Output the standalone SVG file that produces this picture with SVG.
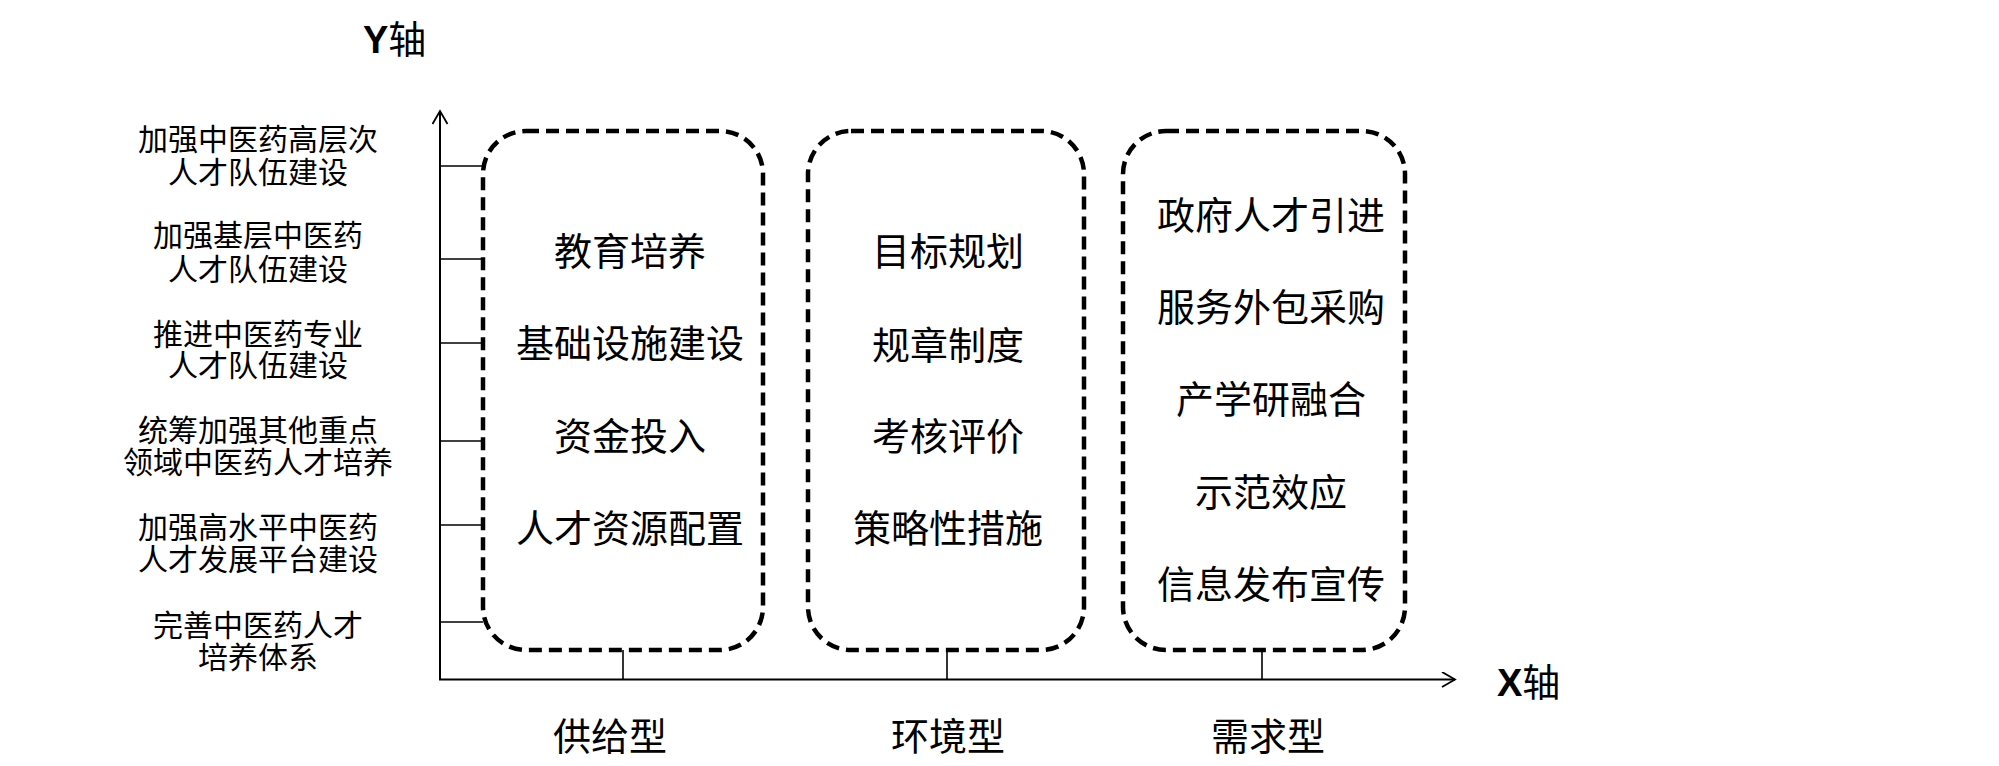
<svg xmlns="http://www.w3.org/2000/svg" width="1999" height="766" viewBox="0 0 1999 766">
<defs>
<style>
.t{font-family:"Noto Sans CJK SC","Liberation Serif",serif;fill:#000;text-anchor:middle;dominant-baseline:central}
.l{font-size:30px}
.b{font-size:38px}
.box{fill:none;stroke:#000;stroke-width:4.5;stroke-dasharray:13 7}
.ax{fill:none;stroke:#000;stroke-width:2}
.tk{fill:none;stroke:#000;stroke-width:1.6}
</style>
<marker id="arr" markerWidth="20" markerHeight="20" refX="14" refY="8" orient="auto" markerUnits="userSpaceOnUse">
<polyline points="1,0.5 14,8 1,15.5" fill="none" stroke="#000" stroke-width="1.8"/>
</marker>
</defs>
<rect width="1999" height="766" fill="#fff"/>
<g id="axes">
<line class="ax" x1="440" y1="680" x2="440" y2="111" marker-end="url(#arr)"/>
<line class="ax" x1="439" y1="679.5" x2="1455" y2="679.5" marker-end="url(#arr)"/>
<text x="363" y="53" font-size="38"><tspan font-family="Liberation Sans,Arial,sans-serif" font-weight="bold">Y</tspan><tspan font-family="Noto Sans CJK SC,sans-serif">轴</tspan></text>
<text x="1497" y="696" font-size="38"><tspan font-family="Liberation Sans,Arial,sans-serif" font-weight="bold">X</tspan><tspan font-family="Noto Sans CJK SC,sans-serif">轴</tspan></text>
</g>
<g id="connectors">
<line class="tk" x1="440" y1="166" x2="483" y2="166"/>
<line class="tk" x1="440" y1="259" x2="483" y2="259"/>
<line class="tk" x1="440" y1="343" x2="483" y2="343"/>
<line class="tk" x1="440" y1="441" x2="483" y2="441"/>
<line class="tk" x1="440" y1="525" x2="483" y2="525"/>
<line class="tk" x1="440" y1="622" x2="483" y2="622"/>
<line class="tk" x1="623" y1="650" x2="623" y2="679"/>
<line class="tk" x1="947" y1="650" x2="947" y2="679"/>
<line class="tk" x1="1262" y1="650" x2="1262" y2="679"/>
</g>
<g id="ylabels">
<text class="t l"><tspan x="258" y="137">加强中医药高层次</tspan><tspan x="258" y="170">人才队伍建设</tspan></text>
<text class="t l"><tspan x="258" y="233">加强基层中医药</tspan><tspan x="258" y="267">人才队伍建设</tspan></text>
<text class="t l"><tspan x="258" y="332">推进中医药专业</tspan><tspan x="258" y="363">人才队伍建设</tspan></text>
<text class="t l"><tspan x="258" y="428">统筹加强其他重点</tspan><tspan x="258" y="460">领域中医药人才培养</tspan></text>
<text class="t l"><tspan x="258" y="525">加强高水平中医药</tspan><tspan x="258" y="557">人才发展平台建设</tspan></text>
<text class="t l"><tspan x="258" y="623">完善中医药人才</tspan><tspan x="258" y="655">培养体系</tspan></text>
</g>
<g id="supply">
<rect class="box" x="483" y="131" width="280" height="519" rx="43" ry="43"/>
<text class="t b" x="630" y="248">教育培养</text>
<text class="t b" x="630" y="340">基础设施建设</text>
<text class="t b" x="630" y="433">资金投入</text>
<text class="t b" x="630" y="525">人才资源配置</text>
<text class="t b" x="610" y="733">供给型</text>
</g>
<g id="environment">
<rect class="box" x="808" y="131" width="276" height="519" rx="43" ry="43"/>
<text class="t b" x="948" y="248">目标规划</text>
<text class="t b" x="948" y="342">规章制度</text>
<text class="t b" x="948" y="433">考核评价</text>
<text class="t b" x="948" y="525">策略性措施</text>
<text class="t b" x="948" y="733">环境型</text>
</g>
<g id="demand">
<rect class="box" x="1123" y="131" width="282" height="519" rx="43" ry="43"/>
<text class="t b" x="1271" y="212">政府人才引进</text>
<text class="t b" x="1271" y="304">服务外包采购</text>
<text class="t b" x="1271" y="396">产学研融合</text>
<text class="t b" x="1271" y="489">示范效应</text>
<text class="t b" x="1271" y="581">信息发布宣传</text>
<text class="t b" x="1268" y="733">需求型</text>
</g>
</svg>
